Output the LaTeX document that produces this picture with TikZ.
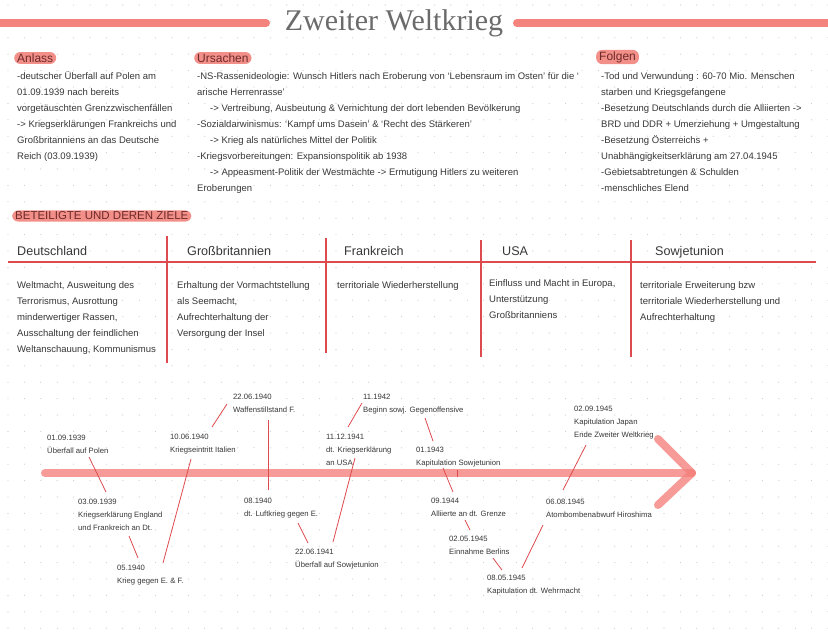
\documentclass[tikz,border=0pt]{standalone}
\usepackage{fontspec}
\setmainfont{Liberation Sans}
\newfontfamily\titlefont{Liberation Serif}
\definecolor{barc}{HTML}{F4837D}
\definecolor{hlc}{HTML}{F28F89}
\definecolor{rulec}{HTML}{DD4B4F}
\definecolor{txt}{HTML}{383838}
\definecolor{hdtxt}{HTML}{6E2A2A}
\definecolor{dotc}{HTML}{CCCCCC}
\begin{document}
\begin{tikzpicture}[x=1pt,y=-1pt,
  body/.style={anchor=base west, align=left, inner sep=0pt, text=txt, font=\fontsize{9.5}{16}\selectfont},
  small/.style={anchor=base west, align=left, inner sep=0pt, text=txt, font=\fontsize{7.7}{13}\selectfont},
  hl/.style={anchor=west, fill=hlc, rounded corners=6pt, inner xsep=3pt, inner ysep=1.5pt, text=hdtxt, font=\fontsize{12}{14}\selectfont},
  thead/.style={anchor=base west, inner sep=0pt, text=txt, font=\fontsize{12.6}{15}\selectfont},
  bar/.style={line width=8pt, draw=barc, line cap=round},
  tl/.style={line width=8pt, draw=barc, draw opacity=0.8, line cap=round},
  rule/.style={draw=rulec, line width=1.1pt},
  conn/.style={draw=rulec, line width=0.8pt}]
\useasboundingbox (0,0) rectangle (828,641);
\fill[white] (0,0) rectangle (828,641);
\foreach \i in {0,...,50}{\foreach \j in {0,...,38}{\fill[dotc] ({8+16.4*\i},{5+16.4*\j}) circle[radius=0.6pt];}}

% title
\coordinate (tb1) at (0,23); \coordinate (tb2) at (266,23);
\coordinate (tb3) at (517,23); \coordinate (tb4) at (828,23);
\draw[bar] (tb1) -- (tb2);
\draw[bar] (tb3) -- (tb4);
\node[anchor=base, inner sep=0pt, text=black!58, font=\titlefont\fontsize{30}{32}\selectfont] (title) at (394,30) {Zweiter Weltkrieg};

% sections (multi-line nodes: base = baseline of last line)
\node[hl] (anlass) at (14,58) {Anlass};
\node[body] (anlasstxt) at (17,159) {-deutscher Überfall auf Polen am\\01.09.1939 nach bereits\\vorgetäuschten Grenzzwischenfällen\\-> Kriegserklärungen Frankreichs und\\Großbritanniens an das Deutsche\\Reich (03.09.1939)};

\node[hl] (ursachen) at (194,58) {Ursachen};
\node[body] (ursachentxt) at (197,191) {-NS-Rassenideologie: Wunsch Hitlers nach Eroberung von ‘Lebensraum im Osten’ für die ‘\\arische Herrenrasse’\\\hspace*{13pt}-> Vertreibung, Ausbeutung \& Vernichtung der dort lebenden Bevölkerung\\-Sozialdarwinismus: ‘Kampf ums Dasein’ \& ‘Recht des Stärkeren’\\\hspace*{13pt}-> Krieg als natürliches Mittel der Politik\\-Kriegsvorbereitungen: Expansionspolitik ab 1938\\\hspace*{13pt}-> Appeasment-Politik der Westmächte -> Ermutigung Hitlers zu weiteren\\Eroberungen};

\node[hl] (folgen) at (596,57) {Folgen};
\node[body] (folgentxt) at (601,191) {-Tod und Verwundung : 60-70 Mio. Menschen\\starben und Kriegsgefangene\\-Besetzung Deutschlands durch die Alliierten ->\\BRD und DDR + Umerziehung + Umgestaltung\\-Besetzung Österreichs +\\Unabhängigkeitserklärung am 27.04.1945\\-Gebietsabtretungen \& Schulden\\-menschliches Elend};

% table
\node[hl, font=\fontsize{11.5}{13}\selectfont] (beteiligte) at (12,216) {BETEILIGTE UND DEREN ZIELE};
\coordinate (h1) at (8,262); \coordinate (h2) at (816,262);
\draw[rule] (h1) -- (h2);
\coordinate (v1a) at (167,236); \coordinate (v1b) at (167,363);
\coordinate (v2a) at (326,238); \coordinate (v2b) at (326,353);
\coordinate (v3a) at (481,240); \coordinate (v3b) at (481,357);
\coordinate (v4a) at (631,240); \coordinate (v4b) at (631,357);
\draw[rule] (v1a) -- (v1b);
\draw[rule] (v2a) -- (v2b);
\draw[rule] (v3a) -- (v3b);
\draw[rule] (v4a) -- (v4b);
\node[thead] (hde) at (17,255) {Deutschland};
\node[thead] (hgb) at (187,255) {Großbritannien};
\node[thead] (hfr) at (344,255) {Frankreich};
\node[thead] (hus) at (502,255) {USA};
\node[thead] (hsu) at (655,255) {Sowjetunion};
\node[body] (bde) at (17,352) {Weltmacht, Ausweitung des\\Terrorismus, Ausrottung\\minderwertiger Rassen,\\Ausschaltung der feindlichen\\Weltanschauung, Kommunismus};
\node[body] (bgb) at (177,336) {Erhaltung der Vormachtstellung\\als Seemacht,\\Aufrechterhaltung der\\Versorgung der Insel};
\node[body] (bfr) at (337,288) {territoriale Wiederherstellung};
\node[body] (bus) at (489,318) {Einfluss und Macht in Europa,\\Unterstützung\\Großbritanniens};
\node[body] (bsu) at (640,320) {territoriale Erweiterung bzw\\territoriale Wiederherstellung und\\Aufrechterhaltung};

% timeline
\coordinate (tls) at (45,473); \coordinate (tip) at (692,473);
\coordinate (ahu) at (658,439); \coordinate (ahd) at (658,505);
\draw[tl] (tls) -- (tip);
\draw[tl] (ahu) -- (tip);
\draw[tl] (ahd) -- (tip);
\coordinate (tk1) at (457,470); \coordinate (tk2) at (457,477);
\draw[draw=rulec, line width=0.9pt] (tk1) -- (tk2);

\node[small] (e1) at (47,453) {01.09.1939\\Überfall auf Polen};
\node[small] (e2) at (78,530) {03.09.1939\\Kriegserklärung England\\und Frankreich an Dt.};
\node[small] (e3) at (117,583) {05.1940\\Krieg gegen E. \& F.};
\node[small] (e4) at (170,452) {10.06.1940\\Kriegseintritt Italien};
\node[small] (e5) at (233,412) {22.06.1940\\Waffenstillstand F.};
\node[small] (e6) at (244,516) {08.1940\\dt. Luftkrieg gegen E.};
\node[small] (e7) at (295,567) {22.06.1941\\Überfall auf Sowjetunion};
\node[small] (e8) at (326,465) {11.12.1941\\dt. Kriegserklärung\\an USA};
\node[small] (e9) at (363,412) {11.1942\\Beginn sowj. Gegenoffensive};
\node[small] (e10) at (416,465) {01.1943\\Kapitulation Sowjetunion};
\node[small] (e11) at (431,516) {09.1944\\Alliierte an dt. Grenze};
\node[small] (e12) at (449,554) {02.05.1945\\Einnahme Berlins};
\node[small] (e13) at (487,593) {08.05.1945\\Kapitulation dt. Wehrmacht};
\node[small] (e14) at (546,517) {06.08.1945\\Atombombenabwurf Hiroshima};
\node[small] (e15) at (574,437) {02.09.1945\\Kapitulation Japan\\Ende Zweiter Weltkrieg};

\coordinate (l1a) at (89,457);  \coordinate (l1b) at (106,492);
\coordinate (l2a) at (129,536); \coordinate (l2b) at (138,558);
\coordinate (l3a) at (163,563); \coordinate (l3b) at (191,459);
\coordinate (l4a) at (212,427); \coordinate (l4b) at (227,404);
\coordinate (l5a) at (268,420); \coordinate (l5b) at (268,490);
\coordinate (l6a) at (298,523); \coordinate (l6b) at (308,543);
\coordinate (l7a) at (333,542); \coordinate (l7b) at (355,458);
\coordinate (l8a) at (348,427); \coordinate (l8b) at (362,403);
\coordinate (l9a) at (425,418); \coordinate (l9b) at (433,441);
\coordinate (l10a) at (443,468); \coordinate (l10b) at (453,492);
\coordinate (l11a) at (465,520); \coordinate (l11b) at (470,530);
\coordinate (l12a) at (493,558); \coordinate (l12b) at (502,570);
\coordinate (l13a) at (522,568); \coordinate (l13b) at (543,525);
\coordinate (l14a) at (563,490); \coordinate (l14b) at (586,445);
\foreach \k in {1,...,14}{\draw[conn] (l\k a) -- (l\k b);}
\end{tikzpicture}
\end{document}
